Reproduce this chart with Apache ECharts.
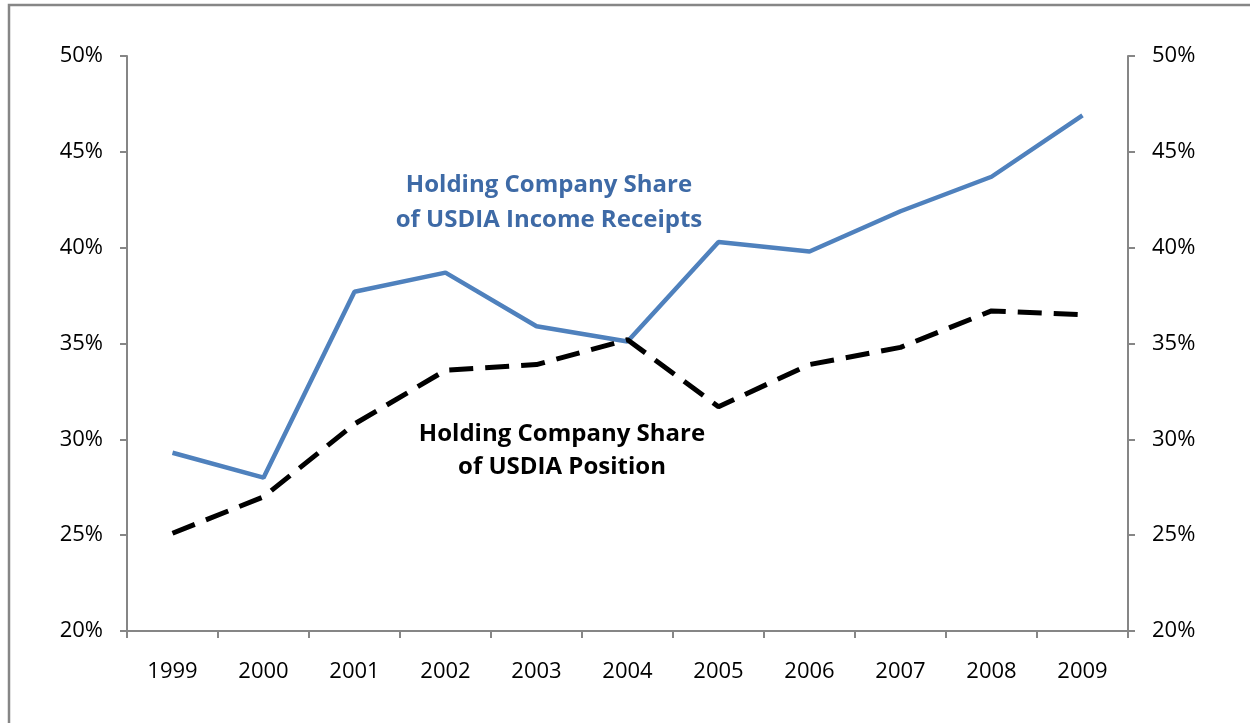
<!DOCTYPE html>
<html>
<head>
<meta charset="utf-8">
<script src="https://cdn.jsdelivr.net/npm/echarts@6/dist/echarts.min.js"></script>
<style>
  html, body { margin: 0; padding: 0; background: #fff; }
  #chart { width: 1250px; height: 723px; }
</style>
</head>
<body>
<div id="chart"></div>
<script>
const years = ['1999', '2000', '2001', '2002', '2003', '2004', '2005', '2006', '2007', '2008', '2009']
// share of USDIA income receipts (%)
const incomeShare = [29.3, 28.0, 37.7, 38.7, 35.9, 35.1, 40.3, 39.8, 41.9, 43.7, 46.9]
// share of USDIA position (%)
const positionShare = [25.1, 27.0, 30.8, 33.6, 33.9, 35.2, 31.7, 33.9, 34.8, 36.7, 36.5]

const font = '"Open Sans", "Liberation Sans", sans-serif'
const axisGray = '#868686'

const chart = echarts.init(document.getElementById('chart'))

const yAxisBase = {
  type: 'value',
  min: 20,
  max: 50,
  interval: 5,
  splitLine: { show: false },
  axisLine: { show: true, lineStyle: { color: axisGray, width: 2 } },
  axisTick: { show: true, inside: false, length: 7, lineStyle: { color: axisGray, width: 2 } },
  axisLabel: { formatter: '{value}%', color: '#000', fontSize: 22, fontFamily: font, margin: 24 }
}

const option = {
  animation: false,
  backgroundColor: '#fff',
  grid: { left: 127, right: 122, top: 56, bottom: 92 },
  xAxis: {
    type: 'category',
    data: years,
    boundaryGap: true,
    axisLine: { lineStyle: { color: axisGray, width: 2 } },
    axisTick: { show: true, length: 7, lineStyle: { color: axisGray, width: 2 } },
    axisLabel: { color: '#000', fontSize: 22, fontFamily: font, margin: 30 }
  },
  yAxis: [
    Object.assign({}, yAxisBase, { position: 'left' }),
    Object.assign({}, yAxisBase, { position: 'right' })
  ],
  series: [
    {
      name: 'Holding Company Share of USDIA Income Receipts',
      type: 'line',
      data: incomeShare,
      symbol: 'none',
      lineStyle: { color: '#4F81BD', width: 4.5 }
    },
    {
      name: 'Holding Company Share of USDIA Position',
      type: 'line',
      data: positionShare,
      symbol: 'none',
      lineStyle: { color: '#000', width: 5, type: [24, 12] }
    }
  ],
  graphic: [
    {
      type: 'rect',
      shape: { x: 9, y: 5, width: 1400, height: 900 },
      style: { fill: 'none', stroke: axisGray, lineWidth: 2.5 },
      silent: true
    },
    {
      type: 'text',
      style: {
        text: 'Holding Company Share\nof USDIA Income Receipts',
        x: 549,
        y: 168,
        align: 'center',
        fill: '#3E6AA6',
        font: 'bold 24px ' + font,
        lineHeight: 35
      }
    },
    {
      type: 'text',
      style: {
        text: 'Holding Company Share\nof USDIA Position',
        x: 562,
        y: 418,
        align: 'center',
        fill: '#000',
        font: 'bold 24px ' + font,
        lineHeight: 33
      }
    }
  ]
}

chart.setOption(option)
</script>
</body>
</html>
